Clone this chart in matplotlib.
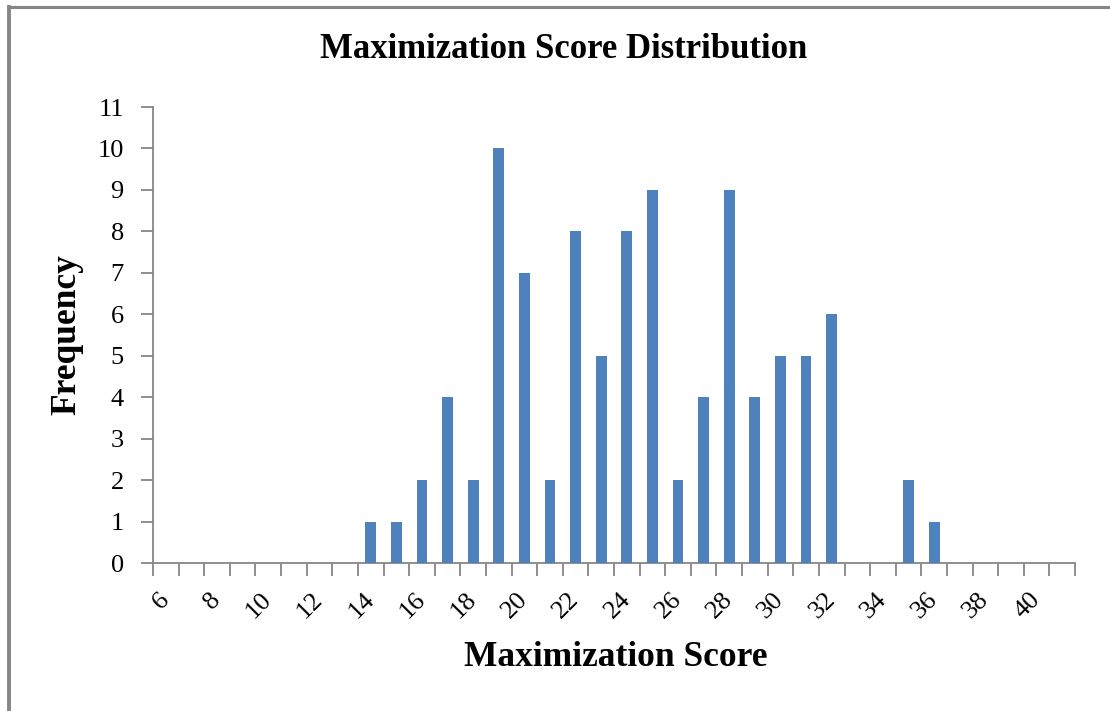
import matplotlib
matplotlib.use("Agg")
import matplotlib.pyplot as plt
from matplotlib.lines import Line2D

scores = list(range(6, 42))
freq_map = {14: 1, 15: 1, 16: 2, 17: 4, 18: 2, 19: 10, 20: 7, 21: 2, 22: 8,
            23: 5, 24: 8, 25: 9, 26: 2, 27: 4, 28: 9, 29: 4, 30: 5, 31: 5,
            32: 6, 33: 0, 34: 0, 35: 2, 36: 1}
frequency = [freq_map.get(s, 0) for s in scores]
tick_labels = [str(s) if s % 2 == 0 and s <= 40 else "" for s in scores]
yticks = list(range(0, 12))

serif = ["Liberation Serif", "DejaVu Serif"]
fig = plt.figure(figsize=(11.10, 7.11), dpi=100)
ax = fig.add_axes([153/1110, 1-563/711, (1075-153)/1110, (563-107)/711])

x = list(range(len(scores)))
ax.bar(x, frequency, width=0.42, color="#4F81BD", zorder=3)
ax.set_xlim(-0.5, len(scores)-0.5)
ax.set_ylim(0, 11)
ax.set_yticks(yticks)
ax.set_yticklabels([str(v) for v in yticks], fontfamily=serif, fontsize=19)

ax.set_xticks(x)
ax.set_xticklabels(tick_labels, fontfamily=serif, fontsize=19, rotation=45,
                   ha="right", va="center", rotation_mode="anchor")
ax.tick_params(axis="x", length=0, pad=24)
# tick marks at category boundaries
ax.set_xticks([i - 0.5 for i in range(len(scores)+1)], minor=True)
ax.tick_params(axis="x", which="minor", length=9, width=1.3, color="#868686", direction="out")
ax.tick_params(axis="y", length=9, width=1.3, color="#868686", direction="out", pad=12)

for s in ["top", "right"]:
    ax.spines[s].set_visible(False)
for s in ["left", "bottom"]:
    ax.spines[s].set_color("#868686")
    ax.spines[s].set_linewidth(1.3)

fig.text(564/1110, 1-49/711, "Maximization Score Distribution", fontfamily=serif,
         fontweight="bold", fontsize=25, ha="center", va="center")
fig.text(616/1110, 1-658/711, "Maximization Score", fontfamily=serif,
         fontweight="bold", fontsize=25.5, ha="center", va="center")
fig.text(67/1110, 1-335/711, "Frequency", fontfamily=serif, fontweight="bold",
         fontsize=25.5, ha="center", va="center", rotation=90)

# outer border (top and left)
fig.add_artist(Line2D([8.5/1110, 1], [1-6.5/711, 1-6.5/711], color="#868686", lw=2.2, transform=fig.transFigure))
fig.add_artist(Line2D([8.5/1110, 8.5/1110], [0, 1-6.5/711], color="#868686", lw=2.8, transform=fig.transFigure))

fig.savefig("out.png", dpi=100)
